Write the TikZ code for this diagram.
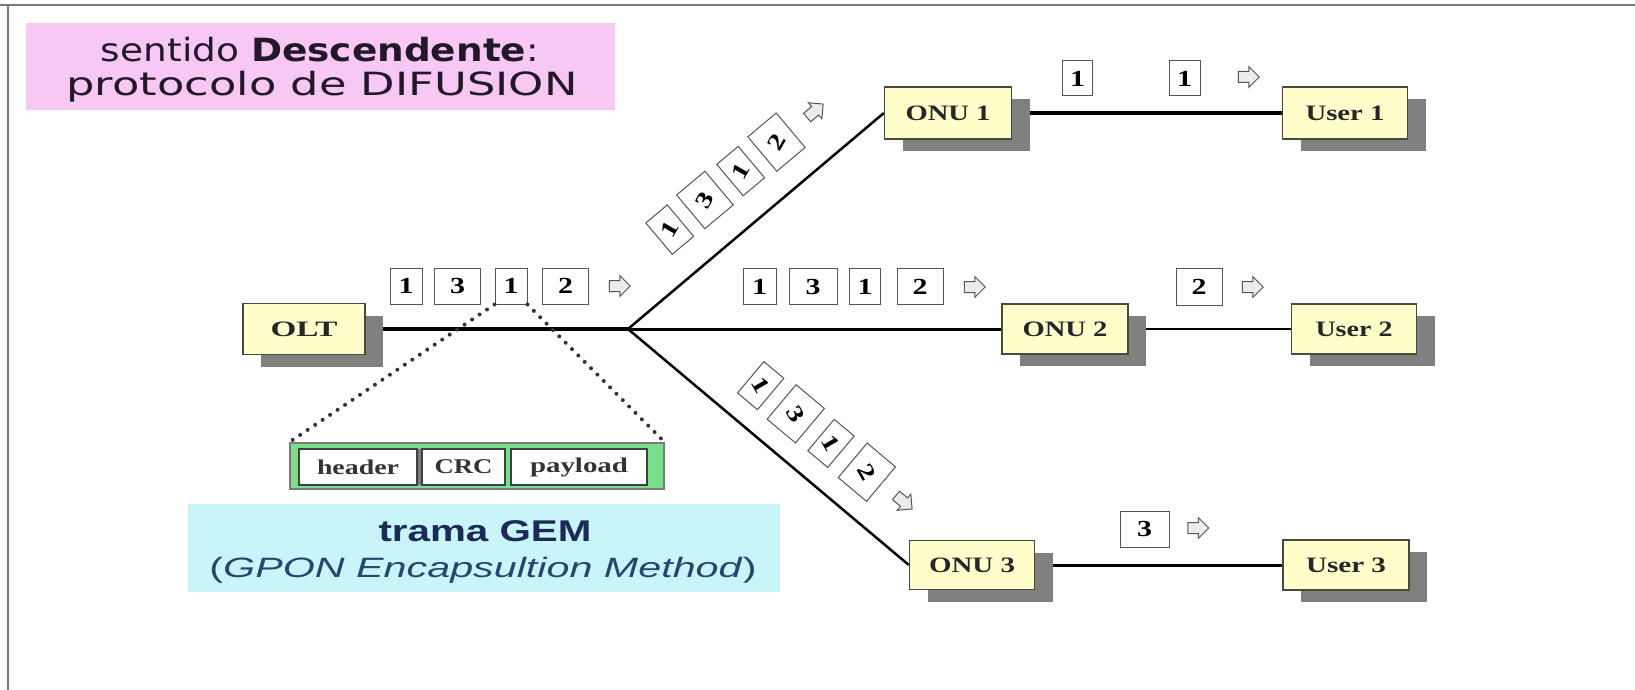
\documentclass[tikz,border=0pt]{standalone}
\usepackage{fontspec}
\setmainfont{Liberation Serif}
\newfontfamily\comicf{DejaVu Sans}
\newfontfamily\arialf{Liberation Sans}
\usetikzlibrary{calc,shadows,shapes.arrows,backgrounds}
\definecolor{unitfill}{HTML}{FFFFCC}
\definecolor{unitline}{HTML}{4A4A3A}
\definecolor{shadowc}{HTML}{808080}
\definecolor{pinkbg}{HTML}{F8C8F4}
\definecolor{cyanbg}{HTML}{C8F5FA}
\definecolor{gemgreen}{HTML}{78E08C}
\definecolor{navy}{HTML}{1B2B55}
\definecolor{navyit}{HTML}{24476B}
\definecolor{pktline}{HTML}{555555}
\definecolor{frameline}{HTML}{7A7A7A}
\definecolor{titletext}{HTML}{22182A}
\newcommand\wfit[2]{\resizebox{#1}{\height}{#2}}
\newcommand\pd[1]{\scalebox{1.3}[1]{#1}}
\begin{document}
\begin{tikzpicture}[x=1pt,y=-1pt,
  unit/.style={draw=unitline, line width=1.3pt, fill=unitfill, inner sep=0pt,
    text=black!85, font=\fontsize{22}{24}\selectfont\bfseries,
    general shadow={fill=shadowc, shadow xshift=18pt, shadow yshift=-12pt}},
  link/.style={line width=3pt, black},
  pkt/.style={draw=pktline, line width=1pt, fill=white, inner sep=0pt,
    minimum height=36pt, font=\fontsize{23}{25}\selectfont\bfseries},
  parrow/.style={single arrow, draw=pktline, fill=gray!15, line width=1pt,
    minimum height=21pt, single arrow head extend=5pt,
    inner xsep=1pt, inner ysep=5pt},
  cell/.style={draw=black!75, line width=1.3pt, fill=white, inner sep=0pt,
    minimum height=36pt, font=\fontsize{21}{23}\selectfont\bfseries, text=black!80},
  dotline/.style={line width=4pt, black!80, dash pattern=on 0pt off 9pt, line cap=round},
]
\useasboundingbox (0,0) rectangle (1635,690);
% frame
\draw[frameline, line width=2.5pt] (0,5) -- (1635,5);
\draw[frameline, line width=2pt] (8,5) -- (8,690);

% title box
\node[fill=pinkbg, minimum width=589pt, minimum height=87pt, inner sep=0pt] (title) at (320.5,66.5) {};
\node[anchor=base, text=titletext, font=\comicf\fontsize{32}{36}\selectfont] (t1) at (320,62)
  {\wfit{438pt}{sentido \textbf{Descendente}:}};
\node[anchor=base, text=titletext, font=\comicf\fontsize{32}{36}\selectfont] (t2) at (322,96)
  {\wfit{511pt}{protocolo de DIFUSION}};

% units
\node[unit, minimum width=122pt, minimum height=51pt] (OLT) at (304,329) {\wfit{67pt}{OLT}};
\coordinate (split) at (628,329);
\node[unit, minimum width=127pt, minimum height=52pt] (ONU1) at (948,113) {\wfit{85pt}{ONU 1}};
\node[unit, minimum width=125pt, minimum height=52pt] (User1) at (1345,113) {\wfit{79pt}{User 1}};
\node[unit, minimum width=126pt, minimum height=50pt] (ONU2) at (1065,329) {\wfit{85pt}{ONU 2}};
\node[unit, minimum width=125pt, minimum height=50pt] (User2) at (1354,329) {\wfit{77pt}{User 2}};
\node[unit, minimum width=125pt, minimum height=49pt] (ONU3) at (972,565) {\wfit{86pt}{ONU 3}};
\node[unit, minimum width=126pt, minimum height=50pt] (User3) at (1346,565) {\wfit{80pt}{User 3}};

% links
\begin{pgfonlayer}{background}
\draw[link, line width=3.5pt] (OLT.east) -- (split);
\draw[link] (split) -- (ONU2.west);
\draw[link, line width=2.5pt] (split) -- (ONU1.west);
\draw[link, line width=2.5pt] (split) -- (ONU3.west);
\draw[link, line width=3.5pt] (ONU1.east) -- (User1.west);
\draw[link, line width=2.5pt] (ONU2.east) -- (User2.west);
\draw[link] (ONU3.east) -- (User3.west);
\end{pgfonlayer}

% OLT row packets
\node[pkt, minimum width=32pt] (o1) at (406,286) {\pd{1}};
\node[pkt, minimum width=46pt] (o2) at (457.5,286) {\pd{3}};
\node[pkt, minimum width=32pt] (o3) at (511,286) {\pd{1}};
\node[pkt, minimum width=46pt] (o4) at (565.5,286) {\pd{2}};
\node[parrow] (oa) at (617,286) {};

% middle row packets
\node[pkt, minimum width=33pt] (m1) at (759.5,286.5) {\pd{1}};
\node[pkt, minimum width=48pt] (m2) at (813,286.5) {\pd{3}};
\node[pkt, minimum width=31pt] (m3) at (865,286.5) {\pd{1}};
\node[pkt, minimum width=46pt] (m4) at (920,286.5) {\pd{2}};
\node[parrow] (ma) at (972,287) {};

% upper diagonal packets
\node[pkt, minimum width=28pt, minimum height=41pt, rotate=40] (u1)
  at ($(split)!96pt!(ONU1.west)!49pt!90:(ONU1.west)$) {\rotatebox{20}{\pd{1}}};
\node[pkt, minimum width=37pt, minimum height=44pt, rotate=40] (u2)
  at ($(split)!142pt!(ONU1.west)!49pt!90:(ONU1.west)$) {\rotatebox{20}{\pd{3}}};
\node[pkt, minimum width=28pt, minimum height=41pt, rotate=40] (u3)
  at ($(split)!188pt!(ONU1.west)!48pt!90:(ONU1.west)$) {\rotatebox{20}{\pd{1}}};
\node[pkt, minimum width=37pt, minimum height=45pt, rotate=40] (u4)
  at ($(split)!234pt!(ONU1.west)!47pt!90:(ONU1.west)$) {\rotatebox{20}{\pd{2}}};
\node[parrow, rotate=40] (ua)
  at ($(split)!281pt!(ONU1.west)!46pt!90:(ONU1.west)$) {};

% lower diagonal packets
\node[pkt, minimum width=26pt, minimum height=41pt, rotate=-40] (l1)
  at ($(split)!138pt!(ONU3.west)!42pt!90:(ONU3.west)$) {\rotatebox{-20}{\pd{1}}};
\node[pkt, minimum width=37pt, minimum height=45pt, rotate=-40] (l2)
  at ($(split)!183pt!(ONU3.west)!43pt!90:(ONU3.west)$) {\rotatebox{-20}{\pd{3}}};
\node[pkt, minimum width=26pt, minimum height=41pt, rotate=-40] (l3)
  at ($(split)!229pt!(ONU3.west)!43pt!90:(ONU3.west)$) {\rotatebox{-20}{\pd{1}}};
\node[pkt, minimum width=37pt, minimum height=45pt, rotate=-40] (l4)
  at ($(split)!275pt!(ONU3.west)!44pt!90:(ONU3.west)$) {\rotatebox{-20}{\pd{2}}};
\node[parrow, rotate=-40] (la)
  at ($(split)!320pt!(ONU3.west)!45pt!90:(ONU3.west)$) {};

% ONU1 -> User1 packets
\node[pkt, minimum width=30pt, minimum height=35pt] (a1) at (1077.5,78.5) {\pd{1}};
\node[pkt, minimum width=31pt, minimum height=35pt] (a2) at (1184.5,78.5) {\pd{1}};
\node[parrow] (aa) at (1246,77) {};

% ONU2 -> User2
\node[pkt, minimum width=46pt, minimum height=37pt] (b1) at (1199,286.5) {\pd{2}};
\node[parrow] (ba) at (1250,287) {};

% ONU3 -> User3
\node[pkt, minimum width=49pt, minimum height=36pt] (c1) at (1144.5,529) {\pd{3}};
\node[parrow] (ca) at (1195.5,528) {};

% GEM frame
\node[draw=frameline, line width=1.5pt, fill=gemgreen, minimum width=374pt,
  minimum height=46pt, inner sep=0pt] (gem) at (477,466) {};
\fill[frameline] (417,449) rectangle (422,485);
\node[cell, minimum width=118pt] (hdr) at (358,467) {\wfit{82pt}{header}};
\node[cell, minimum width=83pt] (crc) at (463.5,467) {\wfit{58pt}{CRC}};
\node[cell, minimum width=136pt] (pay) at (579,467) {\wfit{98pt}{payload}};

\draw[dotline] (o3.south west) -- (gem.north west);
\draw[dotline] (o3.south east) -- (gem.north east);

% GEM note
\node[fill=cyanbg, minimum width=592pt, minimum height=88pt, inner sep=0pt] (note) at (484,548) {};
\node[anchor=base, text=navy, font=\arialf\bfseries\fontsize{30}{32}\selectfont] (n1) at (485,541)
  {\wfit{213pt}{trama GEM}};
\node[anchor=base, text=navyit, font=\arialf\fontsize{28}{30}\selectfont] (n2) at (483,577)
  {\wfit{547pt}{(\textit{GPON Encapsultion Method})}};
\end{tikzpicture}
\end{document}
